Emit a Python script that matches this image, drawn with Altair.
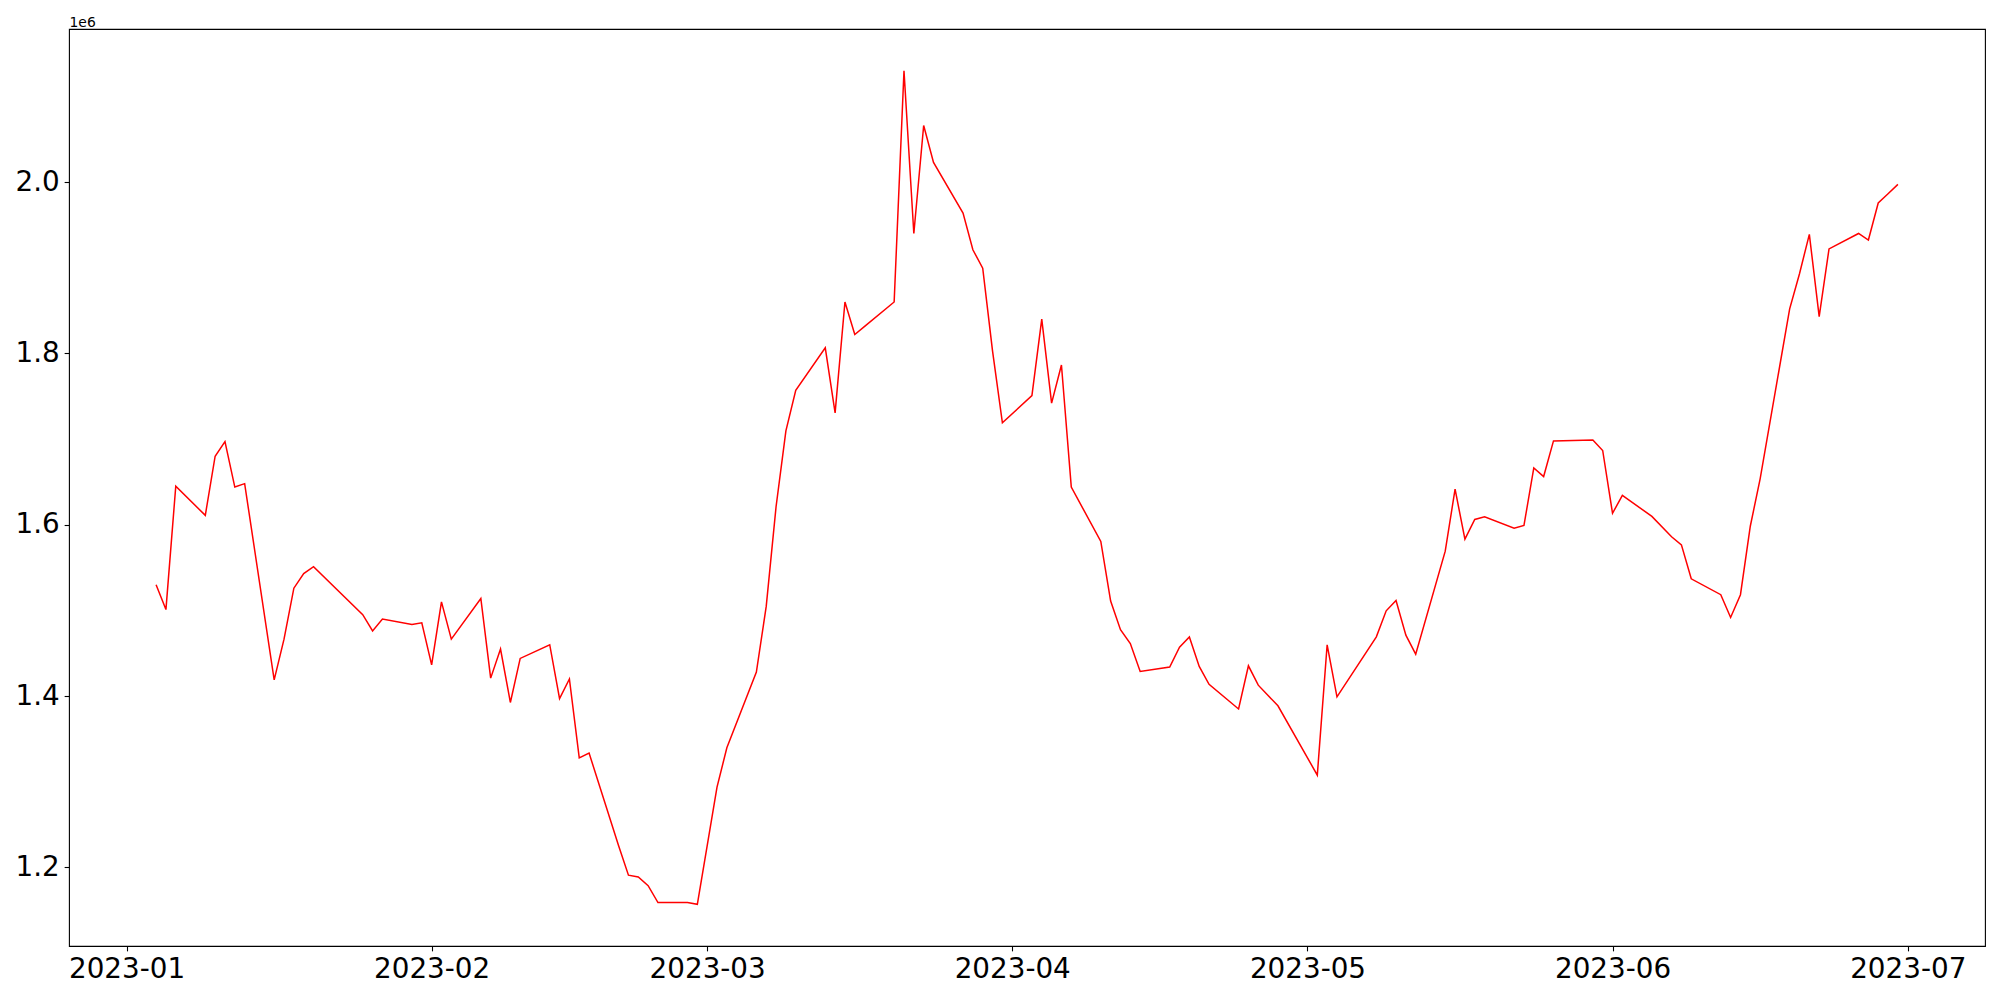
import altair as alt
import pandas as pd

dates = [
    "2023-01-04", "2023-01-05", "2023-01-06", "2023-01-09", "2023-01-10", "2023-01-11", "2023-01-12", "2023-01-13",
    "2023-01-16", "2023-01-17", "2023-01-18", "2023-01-19", "2023-01-20",
    "2023-01-25", "2023-01-26", "2023-01-27",
    "2023-01-30", "2023-01-31", "2023-02-01", "2023-02-02", "2023-02-03",
    "2023-02-06", "2023-02-07", "2023-02-08", "2023-02-09", "2023-02-10",
    "2023-02-13", "2023-02-14", "2023-02-15", "2023-02-16", "2023-02-17",
    "2023-02-20", "2023-02-21", "2023-02-22", "2023-02-23", "2023-02-24",
    "2023-02-27", "2023-02-28", "2023-03-02", "2023-03-03",
    "2023-03-06", "2023-03-07", "2023-03-08", "2023-03-09", "2023-03-10",
    "2023-03-13", "2023-03-14", "2023-03-15", "2023-03-16", "2023-03-17",
    "2023-03-20", "2023-03-21", "2023-03-22", "2023-03-23", "2023-03-24",
    "2023-03-27", "2023-03-28", "2023-03-29", "2023-03-30", "2023-03-31",
    "2023-04-03", "2023-04-04", "2023-04-05", "2023-04-06", "2023-04-07",
    "2023-04-10", "2023-04-11", "2023-04-12", "2023-04-13", "2023-04-14",
    "2023-04-17", "2023-04-18", "2023-04-19", "2023-04-20", "2023-04-21",
    "2023-04-24", "2023-04-25", "2023-04-26", "2023-04-27", "2023-04-28",
    "2023-05-02", "2023-05-03", "2023-05-04",
    "2023-05-08", "2023-05-09", "2023-05-10", "2023-05-11", "2023-05-12",
    "2023-05-15", "2023-05-16", "2023-05-17", "2023-05-18", "2023-05-19",
    "2023-05-22", "2023-05-23", "2023-05-24", "2023-05-25", "2023-05-26",
    "2023-05-30", "2023-05-31", "2023-06-01", "2023-06-02",
    "2023-06-05", "2023-06-07", "2023-06-08", "2023-06-09",
    "2023-06-12", "2023-06-13", "2023-06-14", "2023-06-15", "2023-06-16",
    "2023-06-19", "2023-06-20", "2023-06-21", "2023-06-22", "2023-06-23",
    "2023-06-26", "2023-06-27", "2023-06-28", "2023-06-29", "2023-06-30",
]

values = [
    1530000, 1501000, 1645000, 1611000, 1680000, 1697000, 1644000, 1648000,
    1419000, 1466500, 1526000, 1543000, 1551000,
    1495000, 1476000, 1490000,
    1483700, 1485600, 1436500, 1510000, 1466500,
    1514000, 1421000, 1455000, 1392600, 1444000,
    1460000, 1397000, 1420000, 1328000, 1333500,
    1225300, 1191000, 1189000, 1178700, 1159000,
    1159000, 1157000, 1293800, 1339700,
    1428000, 1504700, 1621000, 1709700, 1757000,
    1806500, 1730600, 1860000, 1822000, 1831500,
    1860000, 2130000, 1940000, 2066000, 2023000,
    1963700, 1921000, 1899500, 1802600, 1719000,
    1750800, 1840000, 1742000, 1786500, 1644000,
    1580500, 1511000, 1477500, 1461400, 1428700,
    1434000, 1457000, 1469000, 1434700, 1413800,
    1385000, 1435400, 1412800, 1400700, 1388700,
    1307800, 1459900, 1399200,
    1469200, 1499600, 1511700, 1471200, 1449000,
    1569200, 1641500, 1583200, 1606200, 1609200,
    1596000, 1599200, 1666400, 1656300, 1697900,
    1699000, 1686700, 1613400, 1634300,
    1609800, 1586000, 1576500, 1536900,
    1518400, 1491800, 1518400, 1598300, 1653600,
    1852000, 1893000, 1939000, 1843000, 1922000,
    1940000, 1932300, 1975600, 1986300, 1997300,
]

y_ticks = [1200000, 1400000, 1600000, 1800000, 2000000]
x_tick_months = [1, 2, 3, 4, 5, 6, 7]

df = pd.DataFrame({"date": dates, "value": values})

# matplotlib-like 5% margins
d = pd.to_datetime(df["date"])
span = d.max() - d.min()
x0 = d.min() - 0.05 * span
x1 = d.max() + 0.05 * span
x_domain = [int(x0.value // 10**6), int(x1.value // 10**6)]
vmin, vmax = min(values), max(values)
vr = vmax - vmin
y_domain = [vmin - 0.05 * vr, vmax + 0.05 * vr]

FONT = "DejaVu Sans"

chart = alt.Chart(df).mark_line(color="#ff0000", strokeWidth=1.5).encode(
    x=alt.X(
        "date:T",
        scale=alt.Scale(type="utc", domain=x_domain),
        axis=alt.Axis(
            values=[alt.DateTime(year=2023, month=m, date=1, utc=True) for m in x_tick_months],
            labelExpr="utcFormat(datum.value, '%Y-%m')",
            title=None,
            labelFlush=False,
            labelOverlap=False,
        ),
    ),
    y=alt.Y(
        "value:Q",
        scale=alt.Scale(domain=y_domain, nice=False, zero=False),
        axis=alt.Axis(
            values=y_ticks,
            labelExpr="format(datum.value / 1000000, '.1f')",
            title="1e6",
            titleAngle=0,
            titleX=0,
            titleY=-3,
            titleAlign="left",
            titleBaseline="alphabetic",
            titleFontSize=13.9,
            titleFontWeight="normal",
            titleFont=FONT,
            titleColor="black",
            labelOverlap=False,
        ),
    ),
).properties(
    width=1916,
    height=917,
    padding={"left": 61, "top": 21, "right": 7, "bottom": 46},
    autosize="none",
).configure_view(
    stroke="black",
    strokeWidth=1.1,
).configure_axis(
    labelFont=FONT,
    labelFontSize=27.8,
    labelColor="black",
    tickColor="black",
    tickSize=4.86,
    tickWidth=1.1,
    labelPadding=4.86,
    grid=False,
    domain=False,
)

chart.save("out.html", embed_options={"renderer": "svg", "actions": False})
